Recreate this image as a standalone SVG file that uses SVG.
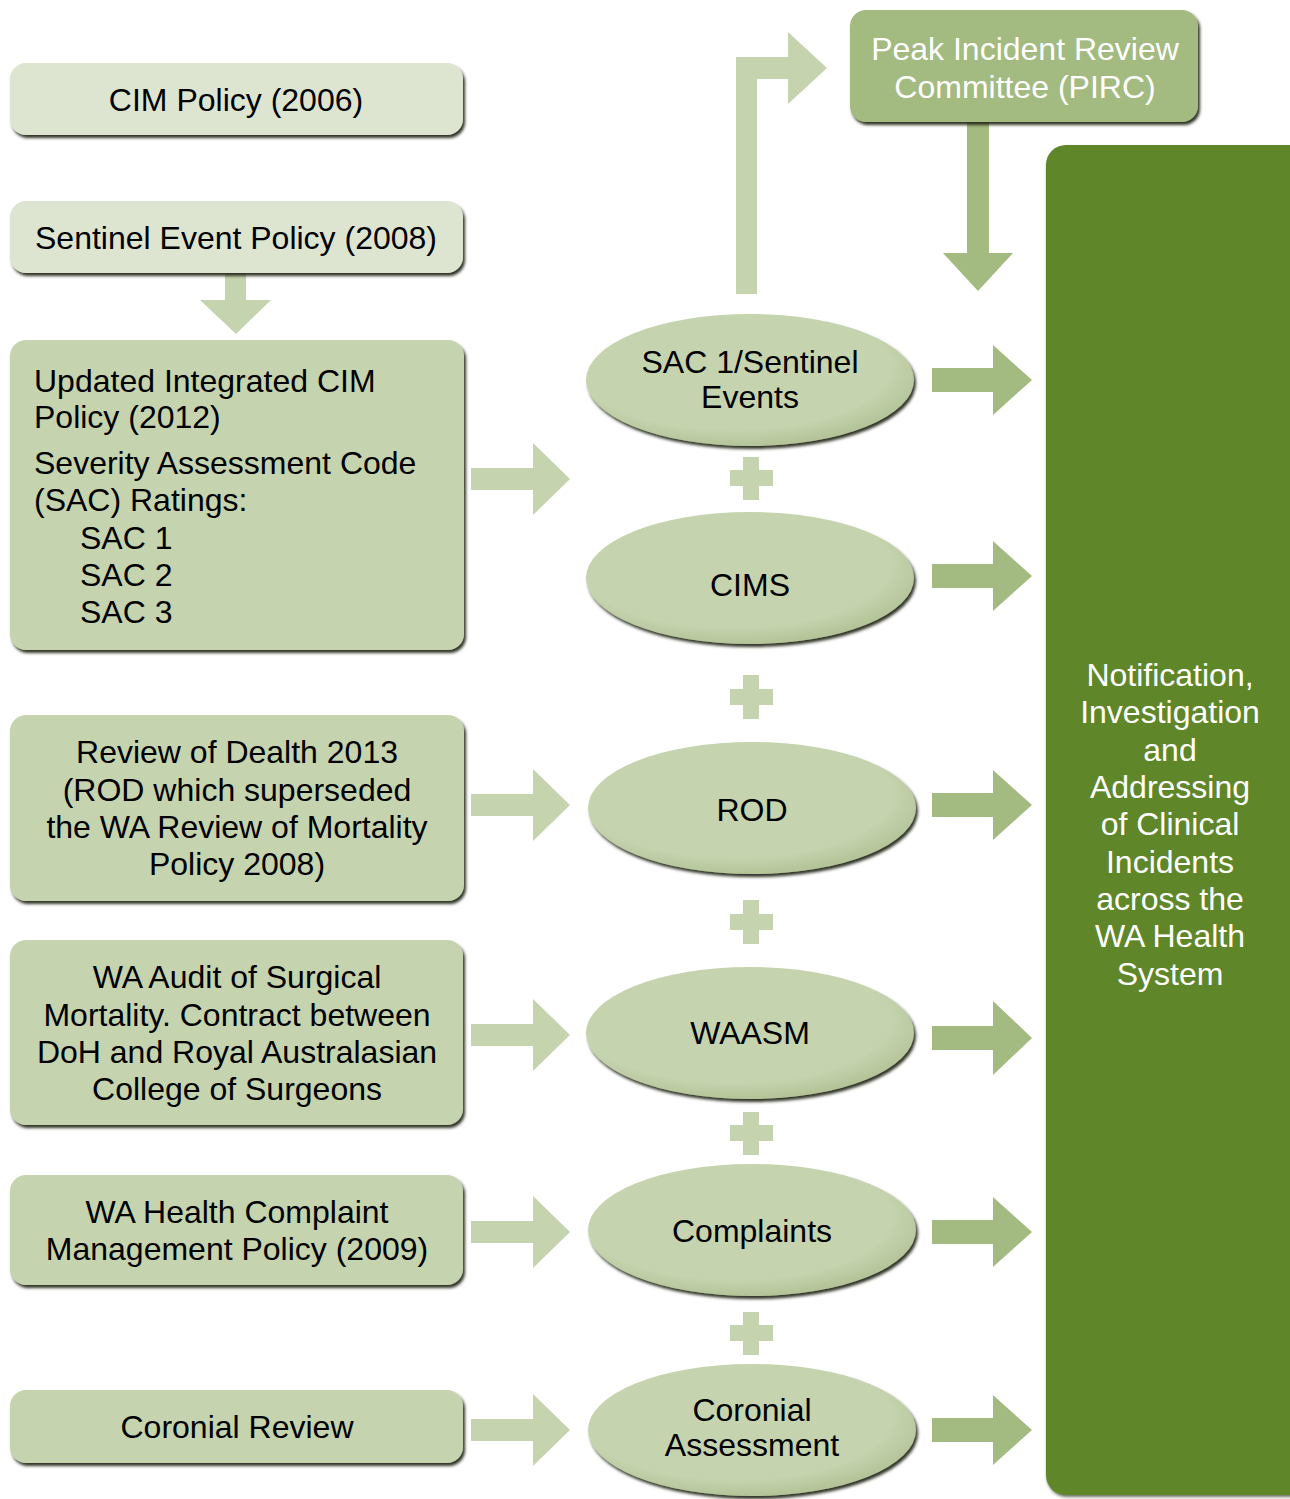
<svg xmlns="http://www.w3.org/2000/svg" width="1290" height="1499" viewBox="0 0 1290 1499">
<defs>
<filter id="sh" x="-10%" y="-10%" width="125%" height="130%">
<feGaussianBlur in="SourceAlpha" stdDeviation="1.5"/>
<feOffset dx="2" dy="3" result="b"/>
<feFlood flood-color="#262a1c" flood-opacity="0.95"/>
<feComposite in2="b" operator="in" result="s"/>
<feMerge><feMergeNode in="s"/><feMergeNode in="SourceGraphic"/></feMerge>
</filter>
<filter id="sh2" x="-5%" y="-5%" width="115%" height="115%">
<feGaussianBlur in="SourceAlpha" stdDeviation="1.5"/>
<feOffset dx="1" dy="2" result="b"/>
<feFlood flood-color="#2e3322" flood-opacity="0.7"/>
<feComposite in2="b" operator="in" result="s"/>
<feMerge><feMergeNode in="s"/><feMergeNode in="SourceGraphic"/></feMerge>
</filter>
<radialGradient id="eg" cx="0.45" cy="0.4" r="0.6">
<stop offset="0.8" stop-color="#c5d3ae"/>
<stop offset="1" stop-color="#b4c498"/>
</radialGradient>
</defs>
<style>
text{font-family:"Liberation Sans",Arial,sans-serif;font-size:32px;fill:#000}
.c{text-anchor:middle}
.w{fill:#fff}
.box{fill:#c5d3ae;filter:url(#sh)}
.lbox{fill:#dde5d1;filter:url(#sh)}
.ell{fill:url(#eg);filter:url(#sh)}
.la{fill:#c5d3ae}
.ra{fill:#a3ba80}
</style>

<g id="connectors">
<polygon class="la" points="225,272 246,272 246,300 271,300 236,334 200,300 225,300"/>
<polygon class="la" points="736,294 736,57 788,57 788,32 827,68 788,104 788,79 757,79 757,294"/>
<polygon class="ra" points="967,120 989,120 989,253 1013,253 978,291 943,253 967,253"/>
<polygon class="la" points="471,468 533,468 533,443 570,479 533,515 533,490 471,490"/>
<polygon class="la" points="471,794 533,794 533,769 570,805 533,841 533,816 471,816"/>
<polygon class="la" points="471,1024 533,1024 533,999 570,1035 533,1071 533,1046 471,1046"/>
<polygon class="la" points="471,1221 533,1221 533,1196 570,1232 533,1268 533,1243 471,1243"/>
<polygon class="la" points="471,1419 533,1419 533,1394 570,1430 533,1466 533,1441 471,1441"/>
<polygon class="ra" points="932,368 993,368 993,345 1032,380 993,415 993,392 932,392"/>
<polygon class="ra" points="932,564 993,564 993,541 1032,576 993,611 993,588 932,588"/>
<polygon class="ra" points="932,793 993,793 993,770 1032,805 993,840 993,817 932,817"/>
<polygon class="ra" points="932,1026 993,1026 993,1001 1032,1038 993,1075 993,1050 932,1050"/>
<polygon class="ra" points="932,1220 993,1220 993,1197 1032,1232 993,1267 993,1244 932,1244"/>
<polygon class="ra" points="932,1418 993,1418 993,1395 1032,1430 993,1465 993,1442 932,1442"/>
<g id="plus-signs" class="la">
<path d="M743,457h16v13h14v16h-14v14h-16v-14h-13v-16h13z"/>
<path d="M743,675h16v14h14v16h-14v14h-16v-14h-13v-16h13z"/>
<path d="M743,900h16v14h14v16h-14v14h-16v-14h-13v-16h13z"/>
<path d="M743,1112h16v13h14v16h-14v14h-16v-14h-13v-16h13z"/>
<path d="M743,1312h16v13h14v16h-14v14h-16v-14h-13v-16h13z"/>
</g>
</g>

<g id="cim-policy">
<rect class="lbox" x="10" y="63" width="453" height="72" rx="16"/>
<text class="c" x="236" y="111">CIM Policy (2006)</text>
</g>
<g id="sentinel-policy">
<rect class="lbox" x="10" y="201" width="453" height="72" rx="16"/>
<text class="c" x="236" y="249">Sentinel Event Policy (2008)</text>
</g>
<g id="updated-cim">
<rect class="box" x="10" y="340" width="454" height="310" rx="16"/>
<text x="34" y="392">Updated Integrated CIM</text>
<text x="34" y="428">Policy (2012)</text>
<text x="34" y="474">Severity Assessment Code</text>
<text x="34" y="511">(SAC) Ratings:</text>
<text x="80" y="549">SAC 1</text>
<text x="80" y="586">SAC 2</text>
<text x="80" y="623">SAC 3</text>
</g>
<g id="review-of-death">
<rect class="box" x="10" y="715" width="454" height="186" rx="16"/>
<text class="c" x="237" y="763">Review of Dealth 2013</text>
<text class="c" x="237" y="801">(ROD which superseded</text>
<text class="c" x="237" y="838">the WA Review of Mortality</text>
<text class="c" x="237" y="875">Policy 2008)</text>
</g>
<g id="wa-audit">
<rect class="box" x="10" y="940" width="453" height="185" rx="16"/>
<text class="c" x="237" y="988">WA Audit of Surgical</text>
<text class="c" x="237" y="1026">Mortality. Contract between</text>
<text class="c" x="237" y="1063">DoH and Royal Australasian</text>
<text class="c" x="237" y="1100">College of Surgeons</text>
</g>
<g id="complaint-policy">
<rect class="box" x="10" y="1175" width="453" height="110" rx="16"/>
<text class="c" x="237" y="1223">WA Health Complaint</text>
<text class="c" x="237" y="1260">Management Policy (2009)</text>
</g>
<g id="coronial-review">
<rect class="box" x="10" y="1390" width="453" height="73" rx="16"/>
<text class="c" x="237" y="1438">Coronial Review</text>
</g>

<g id="pirc">
<rect x="850" y="10" width="348" height="112" rx="16" fill="#a3ba80" filter="url(#sh)"/>
<text class="c w" x="1025" y="60">Peak Incident Review</text>
<text class="c w" x="1025" y="98">Committee (PIRC)</text>
</g>

<g id="sac1">
<ellipse class="ell" cx="750" cy="380" rx="164" ry="66"/>
<text class="c" x="750" y="373">SAC 1/Sentinel</text>
<text class="c" x="750" y="408">Events</text>
</g>
<g id="cims">
<ellipse class="ell" cx="750" cy="578" rx="164" ry="66"/>
<text class="c" x="750" y="596">CIMS</text>
</g>
<g id="rod">
<ellipse class="ell" cx="752" cy="808" rx="164" ry="66"/>
<text class="c" x="752" y="821">ROD</text>
</g>
<g id="waasm">
<ellipse class="ell" cx="750" cy="1033" rx="164" ry="66"/>
<text class="c" x="750" y="1044">WAASM</text>
</g>
<g id="complaints">
<ellipse class="ell" cx="752" cy="1230" rx="164" ry="66"/>
<text class="c" x="752" y="1242">Complaints</text>
</g>
<g id="coronial-assessment">
<ellipse class="ell" cx="752" cy="1430" rx="164" ry="66"/>
<text class="c" x="752" y="1421">Coronial</text>
<text class="c" x="752" y="1456">Assessment</text>
</g>

<g id="notification">
<rect x="1046" y="145" width="270" height="1350" rx="20" fill="#5e8729" filter="url(#sh2)"/>
<text class="c w" x="1170" y="686">Notification,</text>
<text class="c w" x="1170" y="723">Investigation</text>
<text class="c w" x="1170" y="761">and</text>
<text class="c w" x="1170" y="798">Addressing</text>
<text class="c w" x="1170" y="835">of Clinical</text>
<text class="c w" x="1170" y="873">Incidents</text>
<text class="c w" x="1170" y="910">across the</text>
<text class="c w" x="1170" y="947">WA Health</text>
<text class="c w" x="1170" y="985">System</text>
</g>
</svg>
